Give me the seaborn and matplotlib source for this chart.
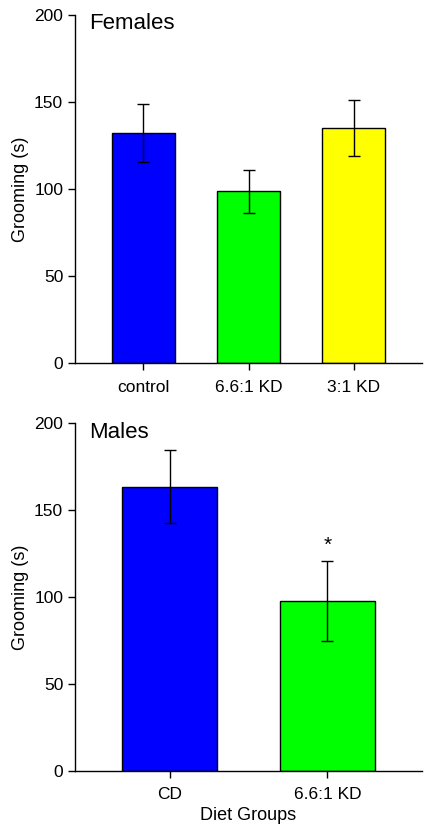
import matplotlib
matplotlib.use("Agg")
import matplotlib.pyplot as plt
import seaborn as sns

# female panel
f_groups = ["control", "6.6:1 KD", "3:1 KD"]
f_means = [132, 98.7, 134.9]
f_err = [16.7, 12.5, 16.0]
f_colors = ["#0000ff", "#00ff00", "#ffff00"]

# male panel
m_groups = ["CD", "6.6:1 KD"]
m_means = [163.5, 97.9]
m_err = [21.0, 23.0]
m_colors = ["#0000ff", "#00ff00"]
m_sig = ["", "*"]

sns.set_style("ticks")
plt.rcParams["font.family"] = ["Liberation Sans", "DejaVu Sans"]
plt.rcParams["text.color"] = "black"
plt.rcParams["axes.labelcolor"] = "black"

fig = plt.figure(figsize=(4.32, 8.34), dpi=100)
ax1 = fig.add_axes([0.1736, 0.5647, 0.8034, 0.4173])
ax2 = fig.add_axes([0.1736, 0.0759, 0.8034, 0.4165])


def panel(ax, groups, means, errs, colors, title, xpad):
    sns.barplot(x=groups, y=means, hue=groups, palette=colors, legend=False,
                width=0.6, edgecolor="black", linewidth=1, errorbar=None,
                saturation=1, ax=ax)
    ax.errorbar(range(len(groups)), means, yerr=errs, fmt="none",
                ecolor="black", elinewidth=1, capsize=4.5, capthick=1)
    ax.set_ylim(0, 200)
    ax.set_xlim(-xpad, len(groups) - 1 + xpad)
    ax.set_yticks([0, 50, 100, 150, 200])
    ax.tick_params(axis="both", labelsize=12.5, length=5, width=1,
                   colors="black")
    ax.tick_params(axis="x", pad=7)
    ax.set_ylabel("Grooming (s)", fontsize=13, labelpad=4)
    ax.text(0.04, 1.005, title, transform=ax.transAxes, fontsize=16,
            va="top", ha="left", color="black")
    sns.despine(ax=ax)
    for s in ["left", "bottom"]:
        ax.spines[s].set_linewidth(1)
        ax.spines[s].set_color("black")


panel(ax1, f_groups, f_means, f_err, f_colors, "Females", 0.65)
panel(ax2, m_groups, m_means, m_err, m_colors, "Males", 0.6)

for i, s in enumerate(m_sig):
    if s:
        ax2.text(i, m_means[i] + m_err[i] + 9, s, ha="center", va="center",
                 fontsize=15, color="black")

ax2.set_xlabel("Diet Groups", fontsize=13, labelpad=3)

fig.savefig("out.png", dpi=100)
